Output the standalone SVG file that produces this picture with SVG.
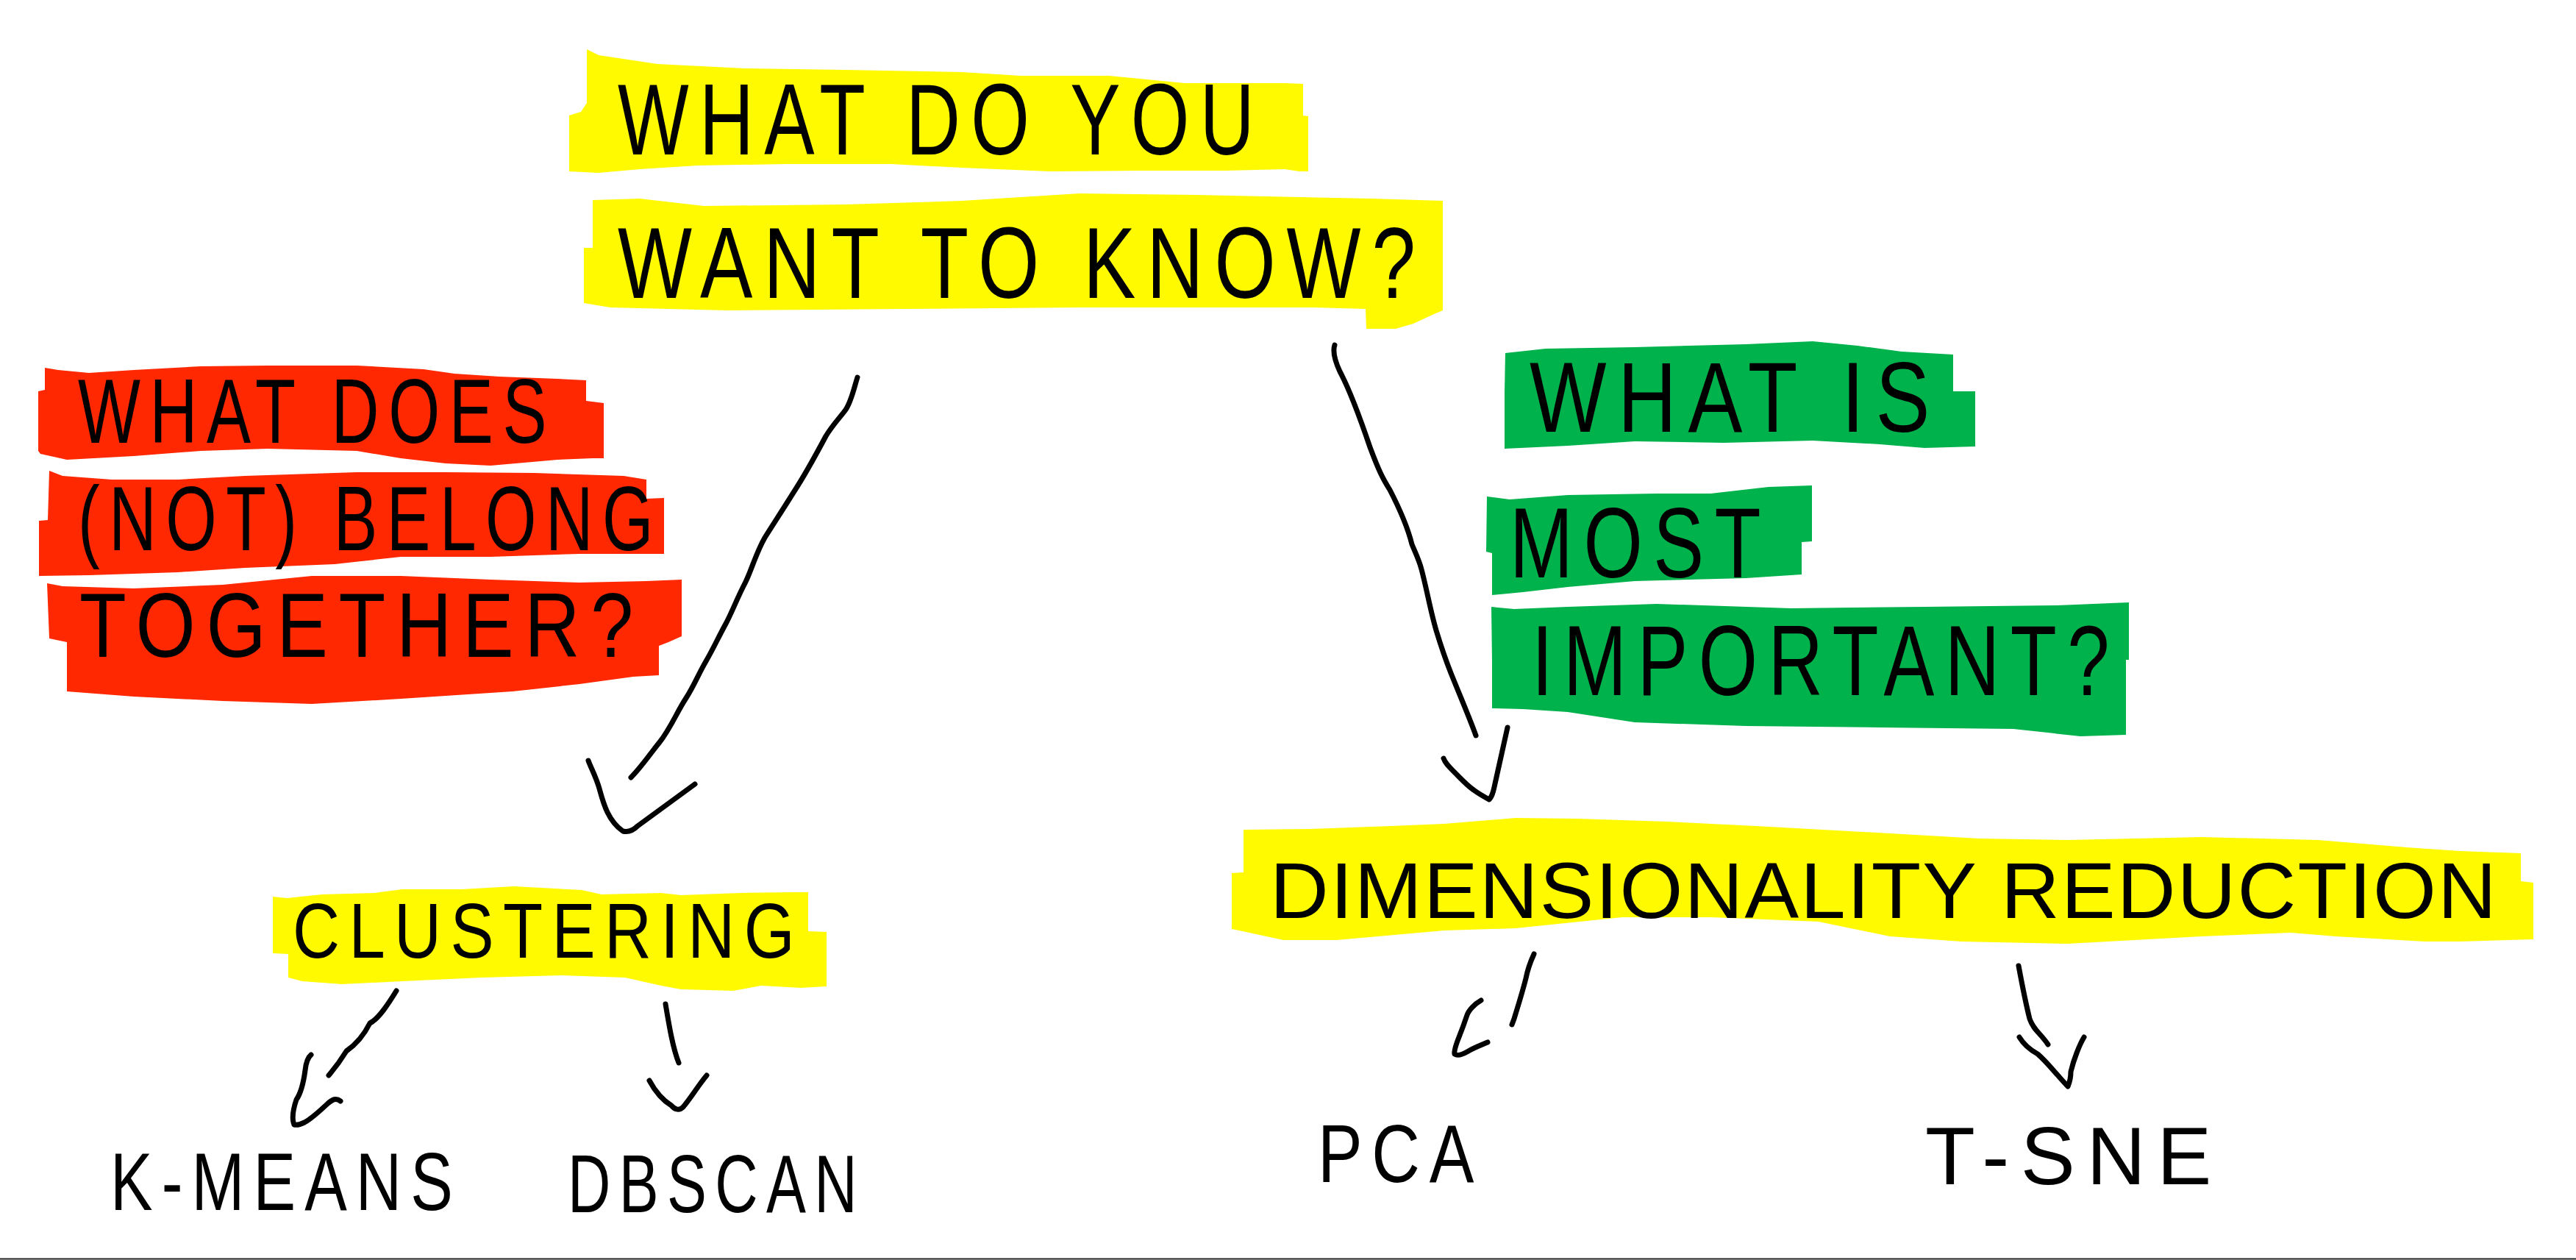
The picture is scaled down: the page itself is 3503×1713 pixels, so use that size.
<svg xmlns="http://www.w3.org/2000/svg" width="3503" height="1713" viewBox="0 0 3503 1713">
<style>
.yl{fill:#FFFA00}
.rd{fill:#FF2800}
.gr{fill:#00B24C}
.t{font-family:'Liberation Sans',Arial,sans-serif;fill:#000;font-weight:normal;letter-spacing:0.14em}
.c{fill:none;stroke:#000;stroke-width:7;stroke-linecap:round;stroke-linejoin:round}
</style>
<rect x="0" y="0" width="3503" height="1713" fill="#fff"/>
<line x1="0" y1="1711.5" x2="3503" y2="1711.5" stroke="#222" stroke-width="2"/>

<g id="node-question">
<path class="yl" d="M798,67 L814,75 L894,87 L1013,93 L1149,95 L1308,98 L1388,103 L1508,103 L1611,113 L1747,113 L1772,114 L1772,157 L1779,158 L1779,233 L1767,233 L1747,230 L1667,232 L1547,232 L1428,233 L1308,228 L1212,223 L1069,223 L949,225 L870,230 L814,235 L774,233 L774,157 L790,152 L798,140 Z"/>
<path class="yl" d="M806,272 L870,270 L957,280 L1149,278 L1308,273 L1388,268 L1468,263 L1627,265 L1866,270 L1962,273 L1962,422 L1950,427 L1922,440 L1898,447 L1858,447 L1857,420 L1787,418 L1627,418 L1468,418 L1228,420 L989,422 L830,418 L794,412 L794,337 L806,337 Z"/>
<text class="t" x="840" y="210" font-size="138" textLength="880" lengthAdjust="spacingAndGlyphs">WHAT DO YOU</text>
<text class="t" x="840" y="405" font-size="138" textLength="1100" lengthAdjust="spacingAndGlyphs">WANT TO KNOW?</text>
</g>

<g id="node-belong">
<path class="rd" d="M61,500 L79,503 L121,507 L182,503 L273,498 L364,497 L485,497 L576,502 L618,508 L679,512 L758,515 L797,517 L797,545 L821,548 L821,623 L806,623 L758,625 L667,633 L606,630 L545,623 L485,613 L364,610 L273,613 L182,620 L91,625 L55,617 L52,613 L52,532 L61,530 Z"/>
<path class="rd" d="M67,640 L85,647 L152,652 L242,652 L333,647 L485,642 L606,642 L727,643 L848,647 L879,652 L879,678 L903,677 L903,753 L879,753 L788,753 L667,757 L545,757 L455,767 L333,772 L242,778 L121,782 L53,783 L53,708 L65,707 L67,640 Z"/>
<path class="rd" d="M64,793 L85,797 L182,800 L303,795 L424,783 L545,783 L667,788 L788,792 L879,790 L927,788 L927,865 L909,873 L896,878 L896,918 L861,920 L788,930 L697,940 L545,950 L424,957 L303,953 L182,947 L91,940 L91,873 L67,868 Z"/>
<text class="t" x="106" y="602" font-size="124" textLength="650" lengthAdjust="spacingAndGlyphs">WHAT DOES</text>
<text class="t" x="106" y="748" font-size="124" textLength="795" lengthAdjust="spacingAndGlyphs">(NOT) BELONG</text>
<text class="t" x="108" y="893" font-size="124" textLength="768" lengthAdjust="spacingAndGlyphs">TOGETHER?</text>
</g>

<g id="node-important">
<path class="gr" d="M2047,480 L2102,474 L2223,472 L2374,468 L2465,464 L2526,470 L2586,478 L2656,482 L2656,532 L2686,532 L2686,607 L2617,609 L2556,604 L2465,599 L2344,602 L2223,600 L2132,606 L2046,610 L2046,533 Z"/>
<path class="gr" d="M2022,675 L2053,679 L2132,673 L2253,671 L2326,671 L2405,662 L2464,660 L2464,736 L2450,737 L2450,781 L2374,786 L2223,790 L2132,798 L2071,805 L2029,809 L2029,752 L2021,750 Z"/>
<path class="gr" d="M2028,825 L2059,828 L2132,825 L2253,821 L2435,827 L2617,825 L2798,823 L2895,819 L2895,897 L2891,897 L2891,999 L2829,1001 L2738,991 L2556,989 L2374,987 L2223,982 L2132,968 L2071,964 L2029,963 L2029,899 Z"/>
<text class="t" x="2080" y="587" font-size="136" textLength="560" lengthAdjust="spacingAndGlyphs">WHAT IS</text>
<text class="t" x="2053" y="785" font-size="136" textLength="356" lengthAdjust="spacingAndGlyphs">MOST</text>
<text class="t" x="2083" y="945" font-size="136" textLength="800" lengthAdjust="spacingAndGlyphs">IMPORTANT?</text>
</g>

<g id="node-clustering">
<path class="yl" d="M371,1219 L390,1221 L438,1216 L509,1214 L547,1209 L628,1209 L699,1205 L791,1210 L818,1216 L899,1214 L926,1217 L1007,1214 L1078,1213 L1099,1213 L1099,1266 L1124,1267 L1124,1341 L1089,1343 L1035,1340 L997,1347 L926,1345 L899,1340 L850,1329 L764,1326 L655,1329 L547,1334 L465,1338 L411,1334 L392,1329 L392,1297 L371,1296 Z"/>
<text class="t" x="398" y="1302" font-size="106" textLength="695" lengthAdjust="spacingAndGlyphs">CLUSTERING</text>
</g>

<g id="node-dimred">
<path class="yl" d="M1691,1128 L1782,1127 L1891,1123 L1964,1120 L2061,1112 L2145,1113 L2267,1117 L2388,1123 L2570,1133 L2691,1140 L2812,1142 L2994,1138 L3152,1142 L3273,1152 L3345,1157 L3428,1160 L3428,1198 L3445,1200 L3445,1277 L3345,1280 L3297,1280 L3176,1273 L3115,1268 L2994,1273 L2812,1283 L2667,1280 L2570,1273 L2473,1253 L2327,1247 L2206,1247 L2061,1262 L1964,1265 L1818,1278 L1745,1278 L1685,1265 L1675,1263 L1675,1187 L1691,1186 Z"/>
<text class="t" x="1727" y="1248" font-size="108" style="letter-spacing:0.02em" textLength="1670" lengthAdjust="spacingAndGlyphs">DIMENSIONALITY REDUCTION</text>
</g>

<g id="node-kmeans">
<text class="t" x="150" y="1645" font-size="112" textLength="478" lengthAdjust="spacingAndGlyphs">K-MEANS</text>
</g>
<g id="node-dbscan">
<text class="t" x="772" y="1648" font-size="112" textLength="405" lengthAdjust="spacingAndGlyphs">DBSCAN</text>
</g>
<g id="node-pca">
<text class="t" x="1792" y="1607" font-size="112" textLength="225" lengthAdjust="spacingAndGlyphs">PCA</text>
</g>
<g id="node-tsne">
<text class="t" x="2618" y="1610" font-size="112" textLength="405" lengthAdjust="spacingAndGlyphs">T-SNE</text>
</g>

<g id="connectors">
<path class="c" d="M1166,513 C1162,525 1158,545 1150,557 C1142,568 1132,578 1123,593 C1115,608 1095,645 1080,668 C1065,692 1052,712 1040,731 C1028,752 1022,775 1013,793 C1003,812 995,833 987,848 C977,866 970,882 960,899 C950,916 944,932 933,949 C921,967 912,990 897,1009 C884,1025 872,1043 858,1057"/>
<path class="c" d="M800,1034 C804,1045 810,1055 815,1072 C820,1090 826,1115 847,1130 C855,1132 862,1128 867,1123 L945,1066"/>
<path class="c" d="M1815,469 C1812,478 1815,490 1822,505 C1830,520 1845,555 1863,608 C1875,640 1880,650 1890,666 C1905,695 1915,720 1920,740 C1925,752 1930,762 1933,774 C1940,800 1945,830 1953,857 C1960,880 1965,895 1973,915 C1985,945 1998,975 2007,1000"/>
<path class="c" d="M1963,1031 C1965,1037 1970,1042 1978,1050 C1988,1060 1995,1068 2004,1074 C2012,1080 2020,1084 2025,1087 C2028,1084 2030,1080 2032,1070 L2050,989"/>
<path class="c" d="M539,1347 C528,1365 515,1385 503,1391 C496,1405 484,1420 471,1429 C460,1447 452,1456 447,1462"/>
<path class="c" d="M423,1434 C418,1438 416,1446 415,1455 C413,1470 410,1485 403,1495 C398,1510 397,1522 400,1529 C405,1530 410,1528 414,1526 C425,1520 435,1510 446,1500 C452,1495 457,1492 463,1497"/>
<path class="c" d="M905,1365 C910,1395 915,1425 923,1445"/>
<path class="c" d="M883,1469 C890,1482 900,1495 913,1503 C918,1509 924,1510 929,1505 C940,1492 950,1475 961,1462"/>
<path class="c" d="M2086,1297 C2080,1310 2077,1320 2075,1330 C2070,1350 2062,1375 2059,1385 L2056,1393"/>
<path class="c" d="M2014,1360 C2005,1365 1997,1374 1995,1380 C1990,1395 1986,1405 1984,1410 C1980,1420 1977,1428 1978,1433 C1982,1436 1988,1434 1995,1430 C2005,1424 2016,1420 2023,1417"/>
<path class="c" d="M2745,1313 C2750,1340 2755,1365 2760,1385 C2765,1400 2775,1405 2785,1420"/>
<path class="c" d="M2746,1410 C2752,1420 2762,1428 2771,1433 C2785,1445 2800,1465 2812,1477 C2815,1470 2816,1462 2816,1457 C2820,1440 2828,1420 2834,1410"/>
</g>
</svg>
